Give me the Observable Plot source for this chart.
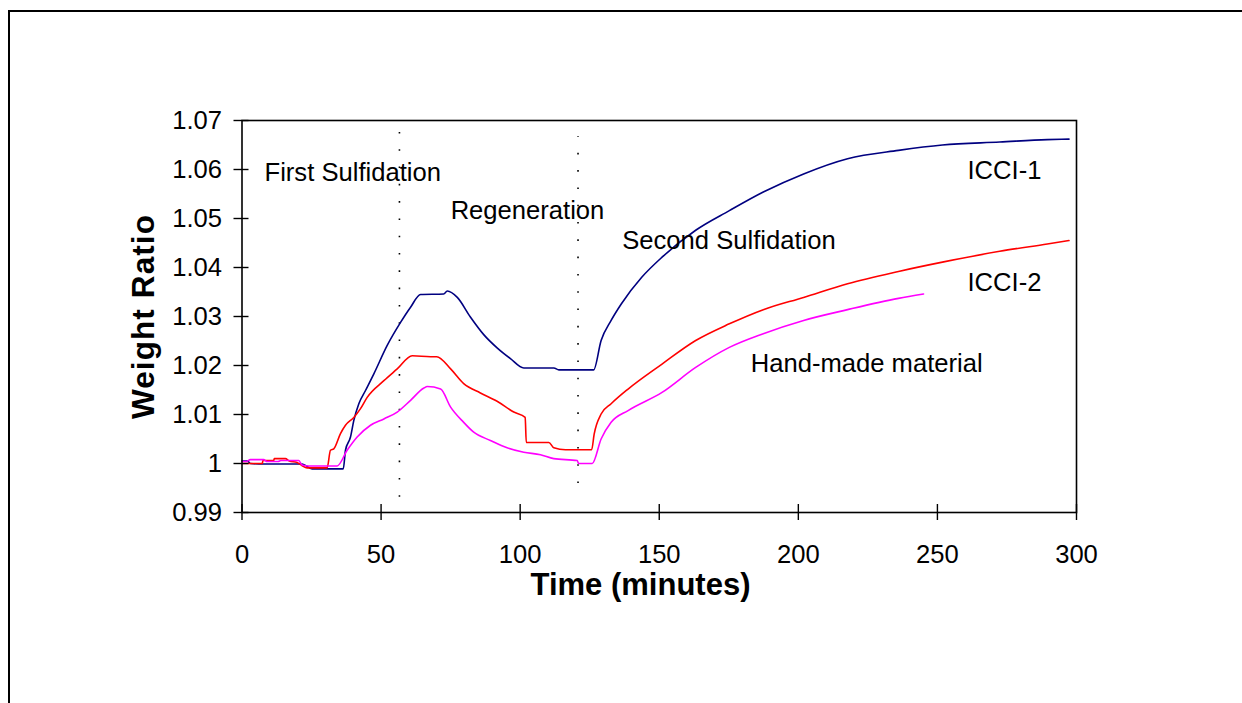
<!DOCTYPE html>
<html><head><meta charset="utf-8">
<script src="https://cdn.jsdelivr.net/npm/d3@7"></script>
<script src="https://cdn.jsdelivr.net/npm/@observablehq/plot@0.6"></script>
<style>
body{margin:0;background:#fff;}
#wrap{position:relative;width:1242px;height:703px;overflow:hidden;background:#fff;}
#border{position:absolute;left:8px;top:10px;width:1300px;height:800px;border-left:2px solid #000;border-top:2px solid #000;}
#chart{position:absolute;left:0;top:0;}
</style></head><body>
<div id="wrap"><div id="border"></div><div id="chart"></div></div>
<script>
const xTicks = [0, 50, 100, 150, 200, 250, 300];
const yTicks = [0.99, 1.00, 1.01, 1.02, 1.03, 1.04, 1.05, 1.06, 1.07];

const seriesNames = ["ICCI-1", "ICCI-2", "Hand-made material"];
const seriesColors = ["#000080", "#ff0000", "#ff00ff"];

const icci1T = [0,2,3,7.8,21.6,25.2,36.4,37.2,39,40.2,42,44.4,47.4,52.2,57,60.6,64.2,72.5,73.8,77.4,82.1,86.9,91.7,96.5,101.3,112.1,113.9,126.4,129.1,132.7,136.4,143.7,151,163.1,175.2,187.4,201.9,217.7,236,251.8,272.4,289.5,297.3];
const icci1V = [1.0005,1.0005,1.0000,0.9999,0.9999,0.9989,0.9989,1.0027,1.0054,1.0088,1.0122,1.0149,1.0183,1.0241,1.0288,1.0319,1.0345,1.0346,1.0352,1.0339,1.0299,1.0263,1.0236,1.0214,1.0195,1.0195,1.0191,1.0191,1.0251,1.0292,1.0326,1.0380,1.0421,1.0476,1.0516,1.0554,1.0591,1.0622,1.0639,1.0650,1.0656,1.0661,1.0662];

const icci2T = [0,7.3,7.5,11.4,11.6,15.6,17,19.8,21.5,23.4,30.6,31.8,33,35.4,37.2,40.2,42.6,45,51,55.8,61.2,67.8,70,75,79.7,85.7,91.7,97.7,101.8,102.2,110.3,112.1,116.3,125.7,126.6,129.1,132.7,138.8,151,163.1,175.2,187.4,201.9,217.7,236,251.8,272.4,289.5,297.3];
const icci2V = [1.0000,1.0000,1.0006,1.0006,1.0010,1.0010,1.0005,1.0002,0.9996,0.9991,0.9991,1.0027,1.0030,1.0061,1.0078,1.0094,1.0112,1.0135,1.0169,1.0193,1.0220,1.0218,1.0218,1.0193,1.0163,1.0144,1.0127,1.0105,1.0094,1.0043,1.0043,1.0032,1.0028,1.0028,1.0060,1.0101,1.0122,1.0152,1.0203,1.0251,1.0285,1.0314,1.0339,1.0367,1.0392,1.0411,1.0433,1.0448,1.0455];

const handT = [0,1.5,3,7.8,9,13,14,20.4,21.6,24,34.2,37.8,41.4,46.2,51,55.8,60.6,65.4,66.6,71.4,75,79.7,83.3,89.3,95.3,101.3,107.3,112.1,120.5,121,125.9,129.1,132.7,138.8,151,163.1,175.2,187.4,201.9,217.7,236,245];
const handV = [1.0004,1.0004,1.0008,1.0008,1.0004,1.0004,1.0006,1.0006,0.9997,0.9995,0.9995,1.0027,1.0054,1.0078,1.0091,1.0105,1.0129,1.0154,1.0157,1.0152,1.0115,1.0084,1.0064,1.0047,1.0032,1.0023,1.0018,1.0010,1.0006,1.0000,1.0000,1.0050,1.0084,1.0108,1.0145,1.0196,1.0237,1.0265,1.0292,1.0314,1.0337,1.0346];

const phaseT = [56.6, 120.8];
const phaseY1 = [0.9931, 0.9959];
const phaseY2 = [1.0678, 1.0667];

const noteText = ["First Sulfidation", "Regeneration", "Second Sulfidation", "ICCI-1", "ICCI-2", "Hand-made material"];
const noteT = [8.1, 75.0, 136.7, 260.8, 260.8, 182.9];
const noteV = [1.0594, 1.0516, 1.0455, 1.0597, 1.0369, 1.0204];

const yTitle = "Weight Ratio";
const xTitle = "Time (minutes)";

const rows = [];
[[icci1T, icci1V], [icci2T, icci2V], [handT, handV]].forEach(([ts, vs], i) => {
  ts.forEach((t, j) => rows.push({series: seriesNames[i], t, v: vs[j]}));
});
const phases = phaseT.map((t, i) => ({t, y1: phaseY1[i], y2: phaseY2[i]}));
const notes = noteText.map((label, i) => ({label, t: noteT[i], v: noteV[i]}));

const font = "'Liberation Sans', Arial, Helvetica, sans-serif";
const chart = Plot.plot({
  width: 1242, height: 703,
  marginLeft: 241.5, marginRight: 166, marginTop: 120, marginBottom: 191,
  style: {fontFamily: font, fontSize: "25.6px", background: "transparent", color: "#000", overflow: "visible"},
  x: {domain: [0, 300]},
  y: {domain: [0.99, 1.07]},
  color: {domain: seriesNames, range: seriesColors},
  marks: [
    Plot.ruleX(phases, {x: "t", y1: "y1", y2: "y2", stroke: "#000", strokeWidth: 1.6, strokeDasharray: "1.6,15.7"}),
    Plot.line(rows, {x: "t", y: "v", z: "series", stroke: "series", strokeWidth: 1.6, curve: "monotone-x"}),
    Plot.frame({stroke: "#000", strokeWidth: 1.6}),
    Plot.axisX(xTicks, {tickSize: 16, dy: -8, fill: "none", strokeWidth: 1.4, label: null}),
    Plot.axisY(yTicks, {tickSize: 15, dx: 7, fill: "none", strokeWidth: 1.4, label: null}),
    Plot.axisX(xTicks, {tickSize: 0, tickPadding: 32, label: null, fontSize: 25.6, tickFormat: d => String(d)}),
    Plot.axisY(yTicks, {tickSize: 0, tickPadding: 20, label: null, fontSize: 25.6, tickFormat: d => (d === 1 ? "1" : String(+d.toFixed(2)))}),
    Plot.text(notes, {x: "t", y: "v", text: "label", textAnchor: "start", lineAnchor: "middle", fontSize: 25.6, fill: "#000"}),
    Plot.text([yTitle], {text: d => d, frameAnchor: "left", dx: -98, rotate: -90, textAnchor: "middle", lineAnchor: "middle", fontSize: 31.5, fontWeight: "bold", fill: "#000"}),
    Plot.text([xTitle], {text: d => d, frameAnchor: "bottom", dx: -18.75, dy: 73, textAnchor: "middle", lineAnchor: "middle", fontSize: 31, fontWeight: "bold", fill: "#000"})
  ]
});
d3.select(chart).selectAll("text").filter(function() { return this.textContent === yTitle; }).attr("letter-spacing", "1.1px");
document.getElementById("chart").appendChild(chart);
</script>
</body></html>
